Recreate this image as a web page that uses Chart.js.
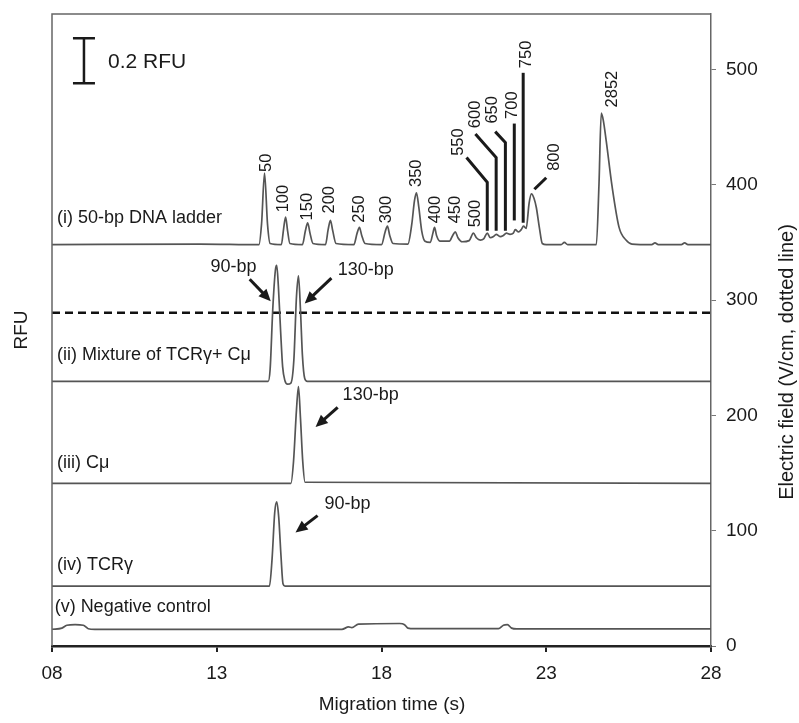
<!DOCTYPE html>
<html>
<head>
<meta charset="utf-8">
<title>Migration time</title>
<script src="https://cdn.jsdelivr.net/npm/chart.js@4"></script>
<style>
  body { margin: 0; background: #fff; }
  #wrap { width: 799px; height: 723px; }
</style>
</head>
<body>
<div id="wrap"><canvas id="chart" width="799" height="723"></canvas></div>
<script>
'use strict';

// x axis ticks (migration time, s)
const xTickValues = [8, 13, 18, 23, 28];
const xTickLabels = ['08', '13', '18', '23', '28'];
// right axis ticks (electric field, V/cm)
const fieldTicks = [0, 100, 200, 300, 400, 500];

// traces: [time (s), height on the shared axis]
const ladderPoints = [
  [8.00, 348], [12.50, 348.5], [14.28, 348], [14.36, 366], [14.45, 410], [14.54, 366], [14.62, 349],
  [14.96, 348], [15.03, 362], [15.09, 372], [15.15, 360], [15.22, 349],
  [15.60, 348], [15.69, 360], [15.76, 367], [15.83, 358], [15.92, 349],
  [16.30, 348], [16.38, 361], [16.45, 369], [16.52, 360], [16.62, 349],
  [17.16, 348], [17.26, 358], [17.33, 363], [17.40, 356], [17.50, 349],
  [18.00, 348], [18.11, 359], [18.18, 364], [18.25, 356], [18.35, 349],
  [18.80, 348.5], [18.92, 366], [19.00, 386], [19.06, 393], [19.13, 381], [19.22, 360], [19.32, 351],
  [19.48, 350], [19.56, 358], [19.61, 363], [19.67, 356], [19.78, 351],
  [20.06, 351], [20.16, 356], [20.24, 359], [20.32, 354], [20.45, 350.5],
  [20.66, 351.5], [20.79, 358], [20.88, 354], [21.00, 352],
  [21.10, 353], [21.21, 358], [21.30, 354],
  [21.40, 355], [21.48, 357], [21.60, 355],
  [21.70, 356], [21.79, 358], [21.90, 357],
  [22.00, 358], [22.06, 361], [22.16, 359],
  [22.24, 361], [22.31, 364],
  [22.39, 362], [22.48, 384], [22.55, 392], [22.63, 388], [22.70, 380], [22.79, 363], [22.88, 349],
  [23.00, 348], [23.45, 348], [23.55, 350], [23.65, 348],
  [24.52, 348], [24.60, 400], [24.67, 462], [24.73, 456], [24.82, 438], [25.00, 398], [25.21, 363], [25.42, 352], [25.60, 348.5],
  [26.20, 348], [26.30, 349.5], [26.40, 348], [27.10, 348], [27.20, 349.5], [27.30, 348], [28.00, 348]
];
const mixturePoints = [
  [8.00, 229.5], [14.56, 229.5], [14.62, 240], [14.70, 292], [14.78, 326], [14.82, 330], [14.87, 312],
  [14.94, 272], [15.00, 242], [15.07, 230], [15.15, 227], [15.25, 228], [15.34, 248], [15.42, 303],
  [15.48, 321], [15.54, 292], [15.60, 252], [15.67, 232], [15.75, 229.5], [28.00, 229.5]
];
const cmuPoints = [
  [8.00, 141], [15.25, 141], [15.33, 160], [15.42, 205], [15.48, 225], [15.54, 198], [15.61, 160],
  [15.68, 142], [28.00, 141]
];
const tcrPoints = [
  [8.00, 52], [14.60, 52], [14.68, 76], [14.76, 116], [14.82, 125], [14.88, 112], [14.95, 78],
  [15.01, 54], [15.07, 52], [28.00, 52]
];
const negativePoints = [
  [8.00, 14.5], [8.30, 15.5], [8.45, 18], [8.70, 18.5], [8.95, 18], [9.10, 15], [9.30, 14.5],
  [16.80, 14.5], [17.00, 16.5], [17.10, 16], [17.30, 19], [18.55, 19.5], [18.70, 18.5], [18.80, 15.5],
  [19.00, 15], [21.55, 15], [21.70, 18], [21.82, 18.5], [21.95, 15.5], [22.10, 14.8], [28.00, 14.8]
];
// electric field (dotted line)
const fieldPoints = [[8, 289], [28, 289]];

// text on the plot
const traceLabels = ['(i) 50-bp DNA ladder', '(ii) Mixture of TCRγ+ Cμ', '(iii) Cμ', '(iv) TCRγ', '(v) Negative control'];
const traceLabelAt = [[8.15, 371], [8.15, 252], [8.15, 159], [8.15, 70], [8.08, 34]];
const ladderSizes = ['50', '100', '150', '200', '250', '300', '350', '400', '450', '500',
  '550', '600', '650', '700', '750', '800', '2852'];
const ladderLabelAt = [[14.52, 411], [15.03, 376], [15.76, 369], [16.42, 375], [17.33, 367], [18.15, 366.5],
  [19.06, 398], [19.64, 366.5], [20.24, 366.5], [20.85, 363], [20.33, 425], [20.85, 449], [21.36, 453],
  [21.97, 457], [22.39, 501], [23.24, 412], [25.0, 467]];
const leaderPaths = [
  [[21.21, 360], [21.21, 402], [20.58, 423.5]],
  [[21.48, 360], [21.48, 423.5], [20.85, 444]],
  [[21.76, 360], [21.76, 436.5], [21.45, 446]],
  [[22.03, 369], [22.03, 453]],
  [[22.30, 367], [22.30, 497]],
  [[22.64, 396], [23.0, 406]]
];
const bpLabels = ['90-bp', '130-bp', '130-bp', '90-bp'];
const bpLabelAt = [[14.21, 329], [16.67, 326], [16.82, 218], [16.27, 123]];
const bpArrows = [
  [[14.0, 318], [14.64, 299]],
  [[16.48, 319], [15.67, 297]],
  [[16.67, 207], [16.0, 190]],
  [[16.06, 113], [15.39, 98.5]]
];
const scaleBar = { time: 8.97, from: 488, to: 527, label: '0.2 RFU', labelAt: [9.7, 506.5] };

const FONT = '"Liberation Sans", Arial, sans-serif';
const INK = '#1a1a1a';

function toXY(pts) {
  return pts.map(p => ({ x: p[0], y: p[1] }));
}

function arrow(ctx, x1, y1, x2, y2) {
  const a = Math.atan2(y2 - y1, x2 - x1);
  const len = 12, half = 5.5;
  ctx.beginPath();
  ctx.moveTo(x1, y1);
  ctx.lineTo(x2 - Math.cos(a) * len * 0.7, y2 - Math.sin(a) * len * 0.7);
  ctx.stroke();
  ctx.beginPath();
  ctx.moveTo(x2, y2);
  ctx.lineTo(x2 - len * Math.cos(a) + half * Math.sin(a), y2 - len * Math.sin(a) - half * Math.cos(a));
  ctx.lineTo(x2 - len * Math.cos(a) - half * Math.sin(a), y2 - len * Math.sin(a) + half * Math.cos(a));
  ctx.closePath();
  ctx.fill();
}

// frame, labels, arrows, axis titles
const annotate = {
  id: 'annotate',
  afterDraw(chart) {
    const ctx = chart.ctx;
    const area = chart.chartArea;
    const X = t => chart.scales.x.getPixelForValue(t);
    const Y = v => chart.scales.y.getPixelForValue(v);
    ctx.save();

    ctx.strokeStyle = '#666';
    ctx.lineWidth = 1.5;
    ctx.beginPath();
    ctx.moveTo(area.left, area.bottom);
    ctx.lineTo(area.left, area.top);
    ctx.lineTo(area.right, area.top);
    ctx.stroke();

    ctx.fillStyle = INK;
    ctx.strokeStyle = INK;

    // trace names
    ctx.font = '18px ' + FONT;
    ctx.textAlign = 'left';
    ctx.textBaseline = 'middle';
    traceLabels.forEach((s, i) => ctx.fillText(s, X(traceLabelAt[i][0]), Y(traceLabelAt[i][1])));

    // ladder sizes, rotated
    ctx.font = '16.5px ' + FONT;
    ladderSizes.forEach((s, i) => {
      ctx.save();
      ctx.translate(X(ladderLabelAt[i][0]), Y(ladderLabelAt[i][1]));
      ctx.rotate(-Math.PI / 2);
      ctx.fillText(s, 0, 0);
      ctx.restore();
    });
    ctx.lineWidth = 3;
    leaderPaths.forEach(path => {
      ctx.beginPath();
      path.forEach((p, i) => (i ? ctx.lineTo(X(p[0]), Y(p[1])) : ctx.moveTo(X(p[0]), Y(p[1]))));
      ctx.stroke();
    });

    // bp arrows
    ctx.font = '18px ' + FONT;
    bpLabels.forEach((s, i) => {
      ctx.textAlign = i === 0 ? 'right' : 'left';
      ctx.fillText(s, X(bpLabelAt[i][0]), Y(bpLabelAt[i][1]));
      const a = bpArrows[i];
      arrow(ctx, X(a[0][0]), Y(a[0][1]), X(a[1][0]), Y(a[1][1]));
    });

    // scale bar
    const bx = X(scaleBar.time);
    ctx.lineWidth = 2.5;
    ctx.beginPath();
    ctx.moveTo(bx, Y(scaleBar.from));
    ctx.lineTo(bx, Y(scaleBar.to));
    ctx.moveTo(bx - 11, Y(scaleBar.from));
    ctx.lineTo(bx + 11, Y(scaleBar.from));
    ctx.moveTo(bx - 11, Y(scaleBar.to));
    ctx.lineTo(bx + 11, Y(scaleBar.to));
    ctx.stroke();
    ctx.font = '21px ' + FONT;
    ctx.textAlign = 'left';
    ctx.fillText(scaleBar.label, X(scaleBar.labelAt[0]), Y(scaleBar.labelAt[1]));

    // axis titles
    ctx.font = '19px ' + FONT;
    ctx.textAlign = 'center';
    ctx.fillText('Migration time (s)', 392, 705);
    ctx.save();
    ctx.translate(22, 330);
    ctx.rotate(-Math.PI / 2);
    ctx.fillText('RFU', 0, 0);
    ctx.restore();
    ctx.save();
    ctx.font = '20px ' + FONT;
    ctx.translate(787, 362);
    ctx.rotate(-Math.PI / 2);
    ctx.fillText('Electric field (V/cm, dotted line)', 0, 0);
    ctx.restore();

    ctx.restore();
  }
};

const traceStyle = {
  borderColor: '#555',
  borderWidth: 1.7,
  pointRadius: 0,
  cubicInterpolationMode: 'monotone',
  fill: false
};

new Chart(document.getElementById('chart'), {
  type: 'line',
  data: {
    datasets: [
      Object.assign({ label: 'ladder', data: toXY(ladderPoints) }, traceStyle),
      Object.assign({ label: 'mixture', data: toXY(mixturePoints) }, traceStyle),
      Object.assign({ label: 'Cmu', data: toXY(cmuPoints) }, traceStyle),
      Object.assign({ label: 'TCRg', data: toXY(tcrPoints) }, traceStyle),
      Object.assign({ label: 'negative', data: toXY(negativePoints) }, traceStyle),
      {
        label: 'field', data: toXY(fieldPoints),
        borderColor: '#111', borderWidth: 2.6, borderDash: [8, 5], pointRadius: 0, fill: false
      }
    ]
  },
  options: {
    responsive: false,
    animation: false,
    devicePixelRatio: 1,
    layout: { padding: { left: 52, top: 14, right: 0, bottom: 0 } },
    plugins: { legend: { display: false }, tooltip: { enabled: false } },
    scales: {
      x: {
        type: 'linear', min: 8, max: 28,
        afterBuildTicks: s => { s.ticks = xTickValues.map(v => ({ value: v })); },
        afterFit: s => { s.height = 77; s.paddingLeft = 0; s.paddingRight = 0; },
        ticks: { callback: (v, i) => xTickLabels[i], color: INK, padding: 10, maxRotation: 0,
          font: { size: 19, family: FONT } },
        grid: { drawOnChartArea: false, tickLength: 6, color: '#222', lineWidth: 2 },
        border: { color: '#222', width: 2.5 }
      },
      y: {
        position: 'right', min: 0, max: 548,
        afterBuildTicks: s => { s.ticks = fieldTicks.map(v => ({ value: v })); },
        afterFit: s => { s.width = 88; s.paddingTop = 0; s.paddingBottom = 0; },
        ticks: { color: INK, padding: 10, font: { size: 19, family: FONT } },
        grid: { drawOnChartArea: false, tickLength: 5, color: '#777' },
        border: { color: '#666', width: 1.5 }
      }
    }
  },
  plugins: [annotate]
});
</script>
</body>
</html>
